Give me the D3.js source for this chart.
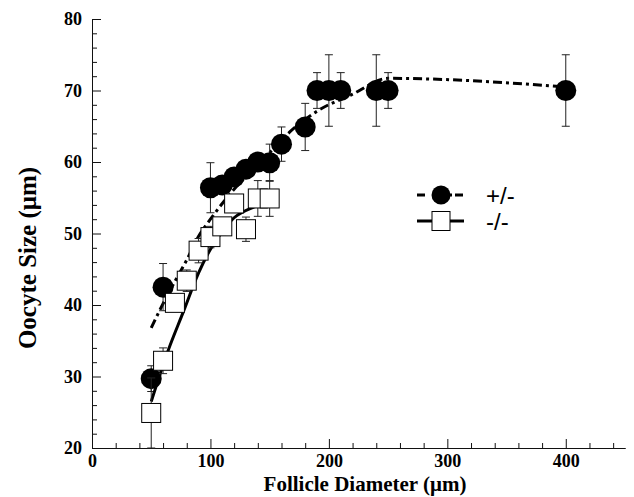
<!DOCTYPE html>
<html>
<head>
<meta charset="utf-8">
<script src="https://cdn.jsdelivr.net/npm/d3@7"></script>
<style>
  body { margin: 0; background: white; }
  svg { display: block; }
</style>
</head>
<body>
<script>
// +/- (heterozygous) follicle diameter vs oocyte size
const hetX   = [50, 60, 100, 110, 120, 130, 140, 150, 160, 180, 190, 200, 210, 240, 250, 400]
const hetY   = [29.7, 42.5, 56.4, 56.8, 57.9, 59.0, 60.0, 59.9, 62.5, 64.9, 70, 70, 70, 70, 70, 70]
const hetErr = [1.8, 3.3, 3.5, 1.2, 1.2, 1.2, 1.2, 2.6, 2.4, 3.3, 2.5, 5, 2.5, 5, 2.5, 5]

// -/- (knockout)
const koX   = [50, 60, 70, 80, 90, 100, 110, 120, 130, 140, 150]
const koY   = [24.9, 32.2, 40.3, 43.4, 47.6, 49.5, 51.0, 54.2, 50.6, 54.9, 54.9]
const koErr = [4.9, 1.8, 1.2, 1.5, 1.7, 1.5, 1.2, 1.2, 1.7, 2.5, 2.5]

// fitted curves
const hetFitX = [50, 60, 70, 80, 90, 100, 110, 130, 150, 167, 192, 219, 250, 400]
const hetFitY = [36.8, 40.2, 43.3, 46.3, 49.6, 52.0, 54.2, 58.0, 61.3, 64.2, 67.3, 69.4, 71.7, 70.5]
const koFitX = [50, 64, 77, 90, 100, 110, 120, 138, 150]
const koFitY = [26.5, 33.5, 39.0, 44.5, 47.8, 50.3, 52.2, 53.8, 54.6]

const xTicks = [0, 100, 200, 300, 400]
const yTicks = [20, 30, 40, 50, 60, 70, 80]
const legendLabels = ["+/-", "-/-"]

const w = 634
const h = 497

const xScale = d3.scaleLinear().domain([0, 450]).range([92, 625])
const yScale = d3.scaleLinear().domain([20, 80]).range([448, 19])

const svg = d3.select("body")
              .append("svg")
              .attr("width", w)
              .attr("height", h)
              .style("background-color", "white")

const serif = "'Liberation Serif', 'Times New Roman', serif"

// axes: major + minor ticks pointing inward
const xMinor = d3.range(0, 451, 20).filter(v => v % 100 !== 0)
const yMinor = d3.range(20, 81, 2).filter(v => v % 10 !== 0)

svg.append("g")
   .attr("transform", "translate(0," + yScale(20) + ")")
   .call(d3.axisBottom(xScale).tickValues(xMinor).tickFormat("").tickSize(-5).tickSizeOuter(0))
svg.append("g")
   .attr("transform", "translate(" + xScale(0) + ",0)")
   .call(d3.axisLeft(yScale).tickValues(yMinor).tickFormat("").tickSize(-5).tickSizeOuter(0))

const xAxis = svg.append("g")
   .attr("id", "x-axis")
   .attr("transform", "translate(0," + yScale(20) + ")")
   .call(d3.axisBottom(xScale).tickValues(xTicks).tickFormat(d3.format("d")).tickSize(-9).tickSizeOuter(0).tickPadding(6))
const yAxis = svg.append("g")
   .attr("id", "y-axis")
   .attr("transform", "translate(" + xScale(0) + ",0)")
   .call(d3.axisLeft(yScale).tickValues(yTicks).tickSize(-9).tickSizeOuter(0).tickPadding(10))

svg.selectAll(".tick text")
   .attr("font-family", serif)
   .attr("font-weight", "bold")
   .attr("font-size", 18)
   .attr("fill", "black")
svg.selectAll(".domain, .tick line").attr("stroke", "#111").attr("stroke-width", 1)

// axis titles
svg.append("text")
   .attr("x", 365).attr("y", 491)
   .attr("text-anchor", "middle")
   .attr("font-family", serif).attr("font-weight", "bold").attr("font-size", 21)
   .text("Follicle Diameter (μm)")
svg.append("text")
   .attr("transform", "translate(36,258) rotate(-90)")
   .attr("text-anchor", "middle")
   .attr("font-family", serif).attr("font-weight", "bold").attr("font-size", 25)
   .text("Oocyte Size (μm)")

const line = d3.line()
               .x(d => xScale(d[0]))
               .y(d => yScale(d[1]))
               .curve(d3.curveMonotoneX)

const hetDash = "9,4,3,4"

function drawErrors(xs, ys, es) {
  const g = svg.append("g").attr("stroke", "#222").attr("stroke-width", 1)
  xs.forEach((x, i) => {
    const cx = xScale(x)
    const top = yScale(ys[i] + es[i])
    const bot = yScale(ys[i] - es[i])
    g.append("line").attr("x1", cx).attr("x2", cx).attr("y1", top).attr("y2", bot)
    g.append("line").attr("x1", cx - 4).attr("x2", cx + 4).attr("y1", top).attr("y2", top)
    g.append("line").attr("x1", cx - 4).attr("x2", cx + 4).attr("y1", bot).attr("y2", bot)
  })
}

// +/- series
svg.append("path")
   .datum(hetFitX.map((x, i) => [x, hetFitY[i]]))
   .attr("d", line)
   .attr("fill", "none")
   .attr("stroke", "black")
   .attr("stroke-width", 3)
   .attr("stroke-dasharray", hetDash)
drawErrors(hetX, hetY, hetErr)
svg.append("g")
   .selectAll("circle")
   .data(hetX)
   .enter()
   .append("circle")
   .attr("cx", d => xScale(d))
   .attr("cy", (d, i) => yScale(hetY[i]))
   .attr("r", 10.5)
   .attr("fill", "black")

// -/- series
svg.append("path")
   .datum(koFitX.map((x, i) => [x, koFitY[i]]))
   .attr("d", line)
   .attr("fill", "none")
   .attr("stroke", "black")
   .attr("stroke-width", 3)
drawErrors(koX, koY, koErr)
svg.append("g")
   .selectAll("rect")
   .data(koX)
   .enter()
   .append("rect")
   .attr("x", d => xScale(d) - 9.5)
   .attr("y", (d, i) => yScale(koY[i]) - 9.5)
   .attr("width", 19)
   .attr("height", 19)
   .attr("fill", "white")
   .attr("stroke", "black")
   .attr("stroke-width", 1)

// legend
const lg = svg.append("g")
lg.append("line")
  .attr("x1", 417).attr("x2", 464).attr("y1", 195).attr("y2", 195)
  .attr("stroke", "black").attr("stroke-width", 3).attr("stroke-dasharray", "8,16,4,3,4,3")
lg.append("circle").attr("cx", 441).attr("cy", 195).attr("r", 9.5).attr("fill", "black")
lg.append("line")
  .attr("x1", 417).attr("x2", 464).attr("y1", 221).attr("y2", 221)
  .attr("stroke", "black").attr("stroke-width", 3)
lg.append("rect").attr("x", 432).attr("y", 211.5).attr("width", 18).attr("height", 19)
  .attr("fill", "white").attr("stroke", "black").attr("stroke-width", 1)
lg.selectAll("text")
  .data(legendLabels)
  .enter()
  .append("text")
  .attr("x", 486)
  .attr("y", (d, i) => 204 + i * 26)
  .attr("font-family", "'Liberation Sans', Arial, sans-serif")
  .attr("font-size", 24)
  .text(d => d)
</script>
</body>
</html>
